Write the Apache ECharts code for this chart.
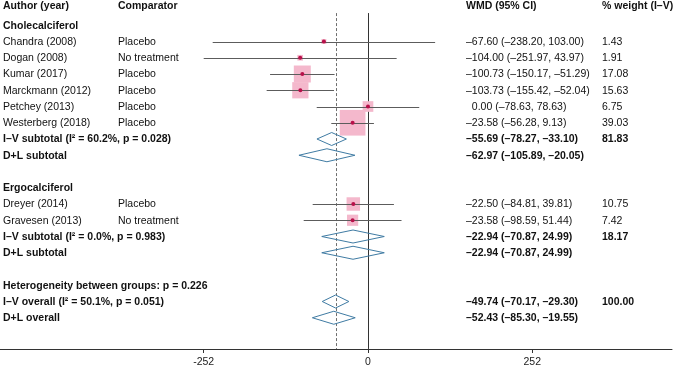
<!DOCTYPE html>
<html>
<head>
<meta charset="utf-8">
<script src="https://cdn.jsdelivr.net/npm/echarts@6/dist/echarts.min.js"></script>
<style>
  html, body { margin: 0; padding: 0; background: #fff; }
  #forest { width: 673px; height: 367px; }
</style>
</head>
<body>
<div id="forest"></div>
<script>
// one entry per row of the table, top to bottom
const rowLabels = [
  "Author (year)", "Cholecalciferol",
  "Chandra (2008)", "Dogan (2008)", "Kumar (2017)", "Marckmann (2012)", "Petchey (2013)", "Westerberg (2018)",
  "I–V subtotal (I² = 60.2%, p = 0.028)", "D+L subtotal", "",
  "Ergocalciferol", "Dreyer (2014)", "Gravesen (2013)",
  "I–V subtotal (I² = 0.0%, p = 0.983)", "D+L subtotal", "",
  "Heterogeneity between groups: p = 0.226",
  "I–V overall (I² = 50.1%, p = 0.051)", "D+L overall"
];
const rowKinds = [
  "head", "group",
  "study", "study", "study", "study", "study", "study",
  "pooled", "pooled", "blank",
  "group", "study", "study",
  "pooled", "pooled", "blank",
  "note", "pooled", "pooled"
];
const comparators = [
  "Comparator", "",
  "Placebo", "No treatment", "Placebo", "Placebo", "Placebo", "Placebo",
  "", "", "",
  "", "Placebo", "No treatment",
  "", "", "",
  "", "", ""
];
const estimates = [
  null, null,
  -67.60, -104.00, -100.73, -103.73, 0.00, -23.58,
  -55.69, -62.97, null,
  null, -22.50, -23.58,
  -22.94, -22.94, null,
  null, -49.74, -52.43
];
const lowerCI = [
  null, null,
  -238.20, -251.97, -150.17, -155.42, -78.63, -56.28,
  -78.27, -105.89, null,
  null, -84.81, -98.59,
  -70.87, -70.87, null,
  null, -70.17, -85.30
];
const upperCI = [
  null, null,
  103.00, 43.97, -51.29, -52.04, 78.63, 9.13,
  -33.10, -20.05, null,
  null, 39.81, 51.44,
  24.99, 24.99, null,
  null, -29.30, -19.55
];
const weights = [
  null, null,
  1.43, 1.91, 17.08, 15.63, 6.75, 39.03,
  81.83, null, null,
  null, 10.75, 7.42,
  18.17, null, null,
  null, 100.00, null
];
const xTicks = [-252, 0, 252];
const overallIV = estimates[18];

const FONT = '"Liberation Sans", Arial, Helvetica, sans-serif';
const boldKinds = ["head", "group", "pooled", "note"];

const fmt = (v) => v.toFixed(2).replace("-", "–");
function wmdText(i) {
  if (i === 0) return "WMD (95% CI)";
  if (estimates[i] == null) return "";
  const pad = estimates[i] >= 0 ? "  " : "";
  return pad + fmt(estimates[i]) + " (" + fmt(lowerCI[i]) + ", " + fmt(upperCI[i]) + ")";
}
function weightText(i) {
  if (i === 0) return "% weight (I–V)";
  return weights[i] == null ? "" : weights[i].toFixed(2);
}

const studyData = [];
const pooledData = [];
rowKinds.forEach((k, i) => {
  if (k === "study") studyData.push([estimates[i], i, lowerCI[i], upperCI[i], weights[i]]);
  if (k === "pooled") pooledData.push([estimates[i], i, lowerCI[i], upperCI[i]]);
});
const textData = rowLabels.map((_, i) => [0, i]);

const crisp = (v) => Math.round(v) + 0.5;

function renderText(params, api) {
  const i = api.value(1);
  const y = api.coord([0, i])[1] + (i === 0 ? -3 : 0.5);
  const bold = boldKinds.indexOf(rowKinds[i]) >= 0;
  const font = (bold ? "bold " : "") + "10.5px " + FONT;
  const cols = [
    [3, rowLabels[i]],
    [118, comparators[i]],
    [466, wmdText(i)],
    [602, weightText(i)]
  ];
  return {
    type: "group",
    children: cols.filter((c) => c[1]).map((c) => ({
      type: "text",
      style: {
        text: c[1], x: c[0], y: y, font: font, fill: "#111",
        textAlign: "left", textVerticalAlign: "middle",
        align: "left", verticalAlign: "middle"
      }
    }))
  };
}

function renderStudy(params, api) {
  const row = api.value(1);
  const c = api.coord([api.value(0), row]);
  const lo = api.coord([api.value(2), row]);
  const hi = api.coord([api.value(3), row]);
  const side = 4.11 * Math.sqrt(api.value(4));
  const y = crisp(c[1]);
  return {
    type: "group",
    children: [
      { type: "rect", shape: { x: c[0] - side / 2, y: c[1] - side / 2, width: side, height: side },
        style: { fill: "#f4b8cc" } },
      { type: "line", shape: { x1: lo[0], y1: y, x2: hi[0], y2: y },
        style: { stroke: "#5c5c5c", lineWidth: 1 } },
      { type: "circle", shape: { cx: c[0], cy: c[1], r: 2 }, style: { fill: "#b8104a" } }
    ]
  };
}

function renderDiamond(params, api) {
  const row = api.value(1);
  const c = api.coord([api.value(0), row]);
  const lo = api.coord([api.value(2), row]);
  const hi = api.coord([api.value(3), row]);
  const half = 6.5;
  return {
    type: "polygon",
    shape: { points: [[lo[0], c[1]], [c[0], c[1] - half], [hi[0], c[1]], [c[0], c[1] + half]] },
    style: { fill: "none", stroke: "#3f7ba3", lineWidth: 1 }
  };
}

function renderRef(params, api) {
  const top = api.coord([api.value(0), 0.25]);
  const bottom = api.coord([api.value(0), 20.92]);
  const x = crisp(top[0]);
  const dashed = params.dataIndex === 1;
  return {
    type: "line",
    shape: { x1: x, y1: top[1], x2: x, y2: bottom[1] },
    style: { stroke: dashed ? "#6f6f6f" : "#333", lineWidth: 1, lineDash: dashed ? [3, 2] : null }
  };
}

const chart = echarts.init(document.getElementById("forest"));
chart.setOption({
  animation: false,
  backgroundColor: "#fff",
  grid: { left: 0, right: 1, top: 0, bottom: 18, containLabel: false, outerBoundsMode: "none" },
  xAxis: {
    type: "value",
    min: -564.4,
    max: 466.3,
    splitLine: { show: false },
    axisLine: { show: true, onZero: false, lineStyle: { color: "#333", width: 1 } },
    axisTick: { show: true, customValues: xTicks, length: 4, inside: false, lineStyle: { color: "#333" } },
    axisLabel: { customValues: xTicks, margin: 8, fontSize: 10.5, color: "#222", fontFamily: FONT }
  },
  yAxis: {
    type: "value",
    inverse: true,
    min: -0.554,
    max: 20.923,
    show: false
  },
  series: [
    { type: "custom", name: "ref", clip: false, silent: true, data: [[0, 0], [overallIV, 0]], renderItem: renderRef },
    { type: "custom", name: "studies", clip: false, silent: true, data: studyData, renderItem: renderStudy },
    { type: "custom", name: "pooled", clip: false, silent: true, data: pooledData, renderItem: renderDiamond },
    { type: "custom", name: "table", clip: false, silent: true, data: textData, renderItem: renderText }
  ]
});
</script>
</body>
</html>
